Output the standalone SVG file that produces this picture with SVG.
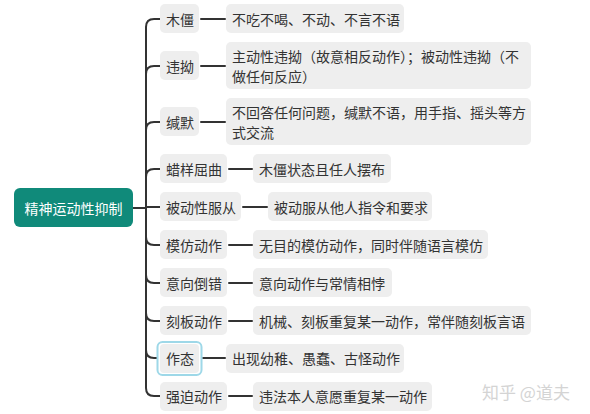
<svg xmlns="http://www.w3.org/2000/svg" width="590" height="414" viewBox="0 0 590 414">
<style>
text{font-family:"Microsoft YaHei","Noto Sans CJK SC",sans-serif;font-size:14px;fill:#333;dominant-baseline:central}
.n{fill:#EEEEEE}
.c{fill:none;stroke:#333;stroke-width:2;stroke-linecap:round}
.root text{fill:#fff}
</style>
<rect width="590" height="414" fill="#fff"/>
<g id="connectors">
<path class="c" d="M133 208 H146"/>
<path class="c" d="M146 208 V27 Q146 19 154 19 H160"/>
<path class="c" d="M146 208 V74 Q146 66 154 66 H160"/>
<path class="c" d="M146 208 V130 Q146 122 154 122 H160"/>
<path class="c" d="M146 208 V177 Q146 169 154 169 H160"/>
<path class="c" d="M146 207 H160"/>
<path class="c" d="M146 208 V237 Q146 245 154 245 H160"/>
<path class="c" d="M146 208 V275 Q146 283 154 283 H160"/>
<path class="c" d="M146 208 V313 Q146 321 154 321 H160"/>
<path class="c" d="M146 208 V350 Q146 358 154 358 H157"/>
<path class="c" d="M146 208 V388 Q146 396 154 396 H160"/>
<path class="c" d="M201 19 H225"/>
<path class="c" d="M201 66 H225"/>
<path class="c" d="M201 122 H225"/>
<path class="c" d="M229 169 H252"/>
<path class="c" d="M243 207 H267"/>
<path class="c" d="M229 245 H252"/>
<path class="c" d="M229 283 H252"/>
<path class="c" d="M229 321 H252"/>
<path class="c" d="M203 358 H225"/>
<path class="c" d="M229 396 H252"/>
</g>
<g id="root" class="root"><rect x="14" y="188" width="119" height="39" rx="6" fill="#108A7A"/><text x="73.5" y="208" text-anchor="middle">精神运动性抑制</text></g>
<g id="n1"><rect class="n" x="160" y="4" width="39" height="29" rx="5"/><text x="166" y="19">木僵</text></g>
<g id="n2"><rect class="n" x="160" y="51" width="39" height="29" rx="5"/><text x="166" y="66">违拗</text></g>
<g id="n3"><rect class="n" x="160" y="107" width="39" height="29" rx="5"/><text x="166" y="122">缄默</text></g>
<g id="n4"><rect class="n" x="160" y="154" width="67" height="29" rx="5"/><text x="166" y="169">蜡样屈曲</text></g>
<g id="n5"><rect class="n" x="160" y="192" width="81" height="29" rx="5"/><text x="166" y="207">被动性服从</text></g>
<g id="n6"><rect class="n" x="160" y="230" width="67" height="29" rx="5"/><text x="166" y="245">模仿动作</text></g>
<g id="n7"><rect class="n" x="160" y="268" width="67" height="29" rx="5"/><text x="166" y="283">意向倒错</text></g>
<g id="n8"><rect class="n" x="160" y="306" width="67" height="29" rx="5"/><text x="166" y="321">刻板动作</text></g>
<g id="n9"><rect class="n" x="160" y="344" width="39" height="29" rx="4"/><rect x="157.5" y="342" width="44" height="33" rx="5" fill="none" stroke="#9ED8E8" stroke-width="2"/><text x="166" y="358">作态</text></g>
<g id="n10"><rect class="n" x="160" y="382" width="67" height="29" rx="5"/><text x="166" y="396">强迫动作</text></g>
<g id="l1"><rect class="n" x="226" y="4" width="178" height="29" rx="5"/><text x="232" y="19">不吃不喝、不动、不言不语</text></g>
<g id="l2"><rect class="n" x="226" y="42" width="305" height="47" rx="5"/><text x="232" y="55.5">主动性违拗（故意相反动作）；被动性违拗（不</text><text x="232" y="76">做任何反应）</text></g>
<g id="l3"><rect class="n" x="226" y="98" width="305" height="47" rx="5"/><text x="232" y="111.5">不回答任何问题，缄默不语，用手指、摇头等方</text><text x="232" y="132">式交流</text></g>
<g id="l4"><rect class="n" x="253" y="154" width="138" height="29" rx="5"/><text x="259" y="169">木僵状态且任人摆布</text></g>
<g id="l5"><rect class="n" x="268" y="192" width="164" height="29" rx="5"/><text x="274" y="207">被动服从他人指令和要求</text></g>
<g id="l6"><rect class="n" x="253" y="230" width="235" height="29" rx="5"/><text x="259" y="245">无目的模仿动作，同时伴随语言模仿</text></g>
<g id="l7"><rect class="n" x="253" y="268" width="139" height="29" rx="5"/><text x="259" y="283">意向动作与常情相悖</text></g>
<g id="l8"><rect class="n" x="253" y="306" width="278" height="29" rx="5"/><text x="259" y="321">机械、刻板重复某一动作，常伴随刻板言语</text></g>
<g id="l9"><rect class="n" x="226" y="344" width="178" height="29" rx="5"/><text x="232" y="358">出现幼稚、愚蠢、古怪动作</text></g>
<g id="l10"><rect class="n" x="253" y="382" width="179" height="29" rx="5"/><text x="259" y="396">违法本人意愿重复某一动作</text></g>
<text x="482" y="391" style="font-size:17px;fill:#D4D4D4">知乎 @道夫</text>
</svg>
